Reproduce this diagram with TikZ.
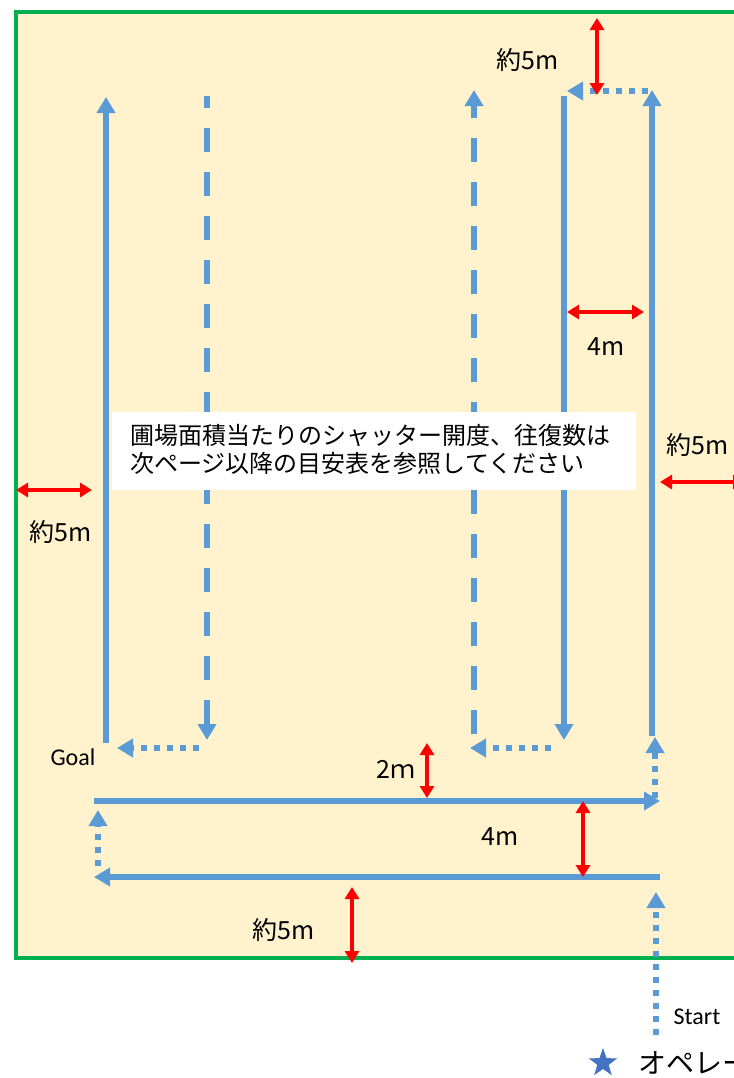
\documentclass[tikz,border=0pt]{standalone}
\usepackage{fontspec}
\setmainfont{Noto Sans CJK JP}
\newfontfamily\latinfont{Carlito}
\usetikzlibrary{arrows.meta,shapes.geometric}

\begin{document}
\begin{tikzpicture}[x=0.5pt,y=-0.5pt,
    route/.style={draw=clrBlue,line width=2.6pt,-{Triangle[width=9pt,length=8pt]}},
    lane/.style={route,dash pattern=on 12pt off 10pt},
    turn/.style={route,dash pattern=on 3pt off 3.5pt},
    span/.style={draw=red,line width=2pt,{Triangle[width=7pt,length=6pt]}-{Triangle[width=7pt,length=6pt]}},
    lbl/.style={inner sep=0pt,font=\fontsize{12.5}{15}\selectfont},
    tag/.style={inner sep=0pt,font=\latinfont\fontsize{12}{14}\selectfont}]
  \definecolor{clrBlue}{RGB}{91,155,213}
  \definecolor{clrField}{RGB}{255,242,204}
  \definecolor{clrEdge}{RGB}{0,176,80}
  \definecolor{clrStar}{RGB}{68,114,196}
  \useasboundingbox (0,0) rectangle (734,1078);

  % field
  \draw[clrEdge, fill=clrField, line width=1.8pt] (16,12) rectangle (780,958);

  % rows across the field
  \draw[route] (106,743) -- (106,97);
  \draw[lane, dash phase=6pt] (207,96) -- (207,740);
  \draw[turn] (199,748) -- (117,748);
  \draw[lane] (474,734) -- (474,90);
  \draw[route] (564,96) -- (564,740);
  \draw[turn] (551,748) -- (470,748);
  \draw[route] (652,736) -- (652,90);
  \draw[turn] (648,91) -- (567,91);

  % headland
  \draw[turn] (655,798) -- (655,737);
  \draw[route] (94,801) -- (660,801);
  \draw[route] (660,877) -- (94,877);
  \draw[turn] (98,866) -- (98,810);
  \draw[turn] (656,1035) -- (656,892);

  % distances
  \draw[span] (597,18) -- (597,95);
  \draw[span] (567,312) -- (644,312);
  \draw[span] (660,482) -- (745,482);
  \draw[span] (16,490) -- (92,490);
  \draw[span] (427,743) -- (427,798);
  \draw[span] (583,801) -- (583,877);
  \draw[span] (352,887) -- (352,963);

  \node[lbl] (topgap) at (528,60) {約5m};
  \node[lbl] (rowgap) at (606,347) {4m};
  \node[lbl] (rightgap) at (698,445) {約5m};
  \node[lbl] (leftgap) at (61,532) {約5m};
  \node[lbl] (headgap) at (396,769) {2ｍ};
  \node[lbl] (passgap) at (500,837) {4m};
  \node[lbl] (bottomgap) at (284,930) {約5m};

  % note
  \node[fill=white, inner sep=0pt, minimum width=262pt, minimum height=39pt, anchor=north west] (note) at (112,412) {};
  \node[anchor=west, align=left, inner sep=0pt, font=\fontsize{12}{14}\selectfont] (notetext) at (130,449)
    {圃場面積当たりのシャッター開度、往復数は\\次ページ以降の目安表を参照してください};

  \node[tag] (goal) at (73,757) {Goal};
  \node[tag] (start) at (697,1017) {Start};
  \node[star, star points=5, star point ratio=2.5, fill=clrStar, inner sep=0pt, minimum size=15pt] (op) at (603,1063) {};
  \node[anchor=west, inner sep=0pt, font=\fontsize{14}{16}\selectfont] (optext) at (638,1063) {オペレー};
\end{tikzpicture}
\end{document}
